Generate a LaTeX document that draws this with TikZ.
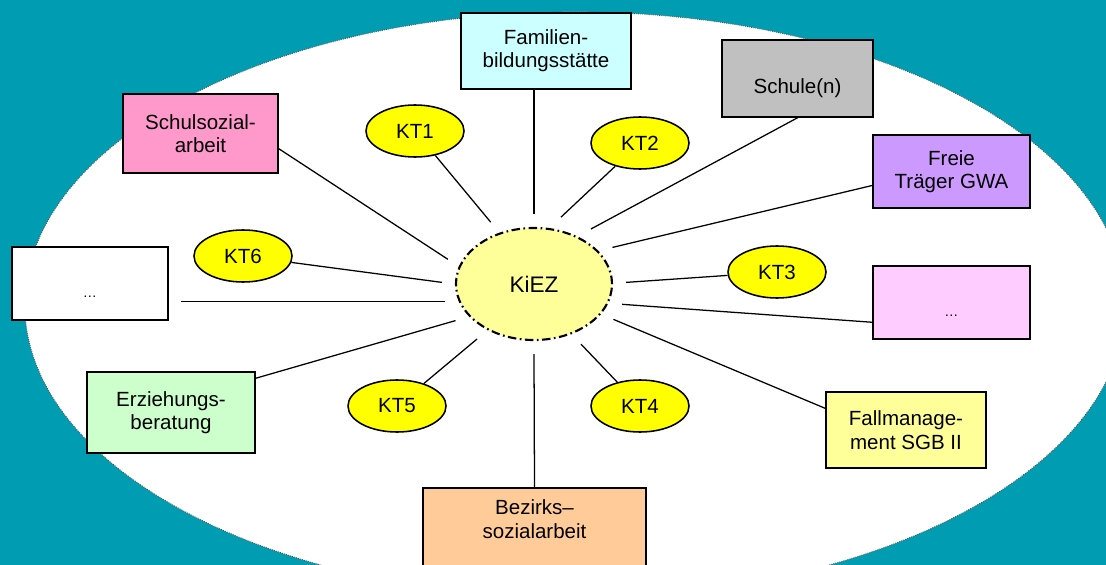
\documentclass[tikz,border=0pt]{standalone}
\usepackage{fontspec}
\setmainfont{Liberation Sans}
\usepackage{tikz}
\usetikzlibrary{shapes.geometric}
\definecolor{sea}{RGB}{0,156,178}
\definecolor{ktyellow}{RGB}{255,255,0}
\definecolor{paleyellow}{RGB}{255,255,153}
\newcommand\lbl{\fontsize{14.6pt}{16.6pt}\selectfont}

\begin{document}
\begin{tikzpicture}[x=0.025cm, y=-0.025cm,
  box/.style={draw, line width=1.1pt, align=center, font=\lbl, inner sep=2pt},
  dotsbox/.style={box, font=\fontsize{10pt}{11pt}\selectfont, text height=0.7cm, text depth=0cm},
  kt/.style={ellipse, draw, line width=1.1pt, fill=ktyellow, inner sep=0pt,
    minimum width=2.45cm, minimum height=1.3cm, font=\lbl},
  hub/.style={ellipse, draw, line width=1.5pt, fill=paleyellow,
    dash pattern=on 6pt off 2.5pt on 1.2pt off 2.5pt,
    minimum width=3.9cm, minimum height=2.8cm, outer sep=0.35cm, font=\fontsize{16pt}{18pt}\selectfont},
  link/.style={line width=0.9pt}]
  \useasboundingbox (0,0) rectangle (1106,565);
  \clip (0,0) rectangle (1106,565);
  \fill[sea] (0,0) rectangle (1106,565);
  \draw[fill=white, line width=0.6pt, draw=black!70, dash pattern=on 0.6pt off 0.9pt]
    (575,305) ellipse [x radius=13.75cm, y radius=7.325cm];

  \node[hub] (kiez) at (534,284) {KiEZ};

  \node[box, fill={rgb,255:red,204;green,255;blue,255}, minimum width=4.25cm, minimum height=1.9cm]
    (fbs) at (546,51) {Familien-\\bildungsstätte};
  \node[box, fill={rgb,255:red,192;green,192;blue,192}, minimum width=3.775cm, minimum height=1.925cm,
    text height=0.875cm] (sch) at (797.5,78.5) {Schule(n)};
  \node[box, fill={rgb,255:red,204;green,153;blue,255}, minimum width=3.925cm, minimum height=1.825cm]
    (fre) at (951.5,171.5) {Freie\\Träger GWA};
  \node[dotsbox, fill={rgb,255:red,255;green,204;blue,255}, minimum width=3.925cm, minimum height=1.825cm]
    (dotsr) at (951.5,302.5) {…};
  \node[box, fill=paleyellow, minimum width=4cm, minimum height=1.9cm]
    (fal) at (906,430) {Fallmanage-\\ment SGB II};
  \node[box, fill={rgb,255:red,255;green,204;blue,153}, minimum width=5.575cm, anchor=north,
    inner ysep=0.3cm, text depth=2cm] (bez) at (534.5,487) {Bezirks–\\sozialarbeit};
  \node[box, fill={rgb,255:red,204;green,255;blue,204}, minimum width=4.2cm, minimum height=2.025cm]
    (erz) at (171,412.5) {Erziehungs-\\beratung};
  \node[dotsbox, fill=white, minimum width=3.9cm, minimum height=1.825cm]
    (dotsl) at (90,283.5) {…};
  \node[box, fill={rgb,255:red,255;green,153;blue,204}, minimum width=3.875cm, minimum height=1.975cm]
    (ssa) at (200.5,133.5) {Schulsozial-\\arbeit};

  \node[kt] (kt1) at (415,131) {KT1};
  \node[kt] (kt2) at (640,143) {KT2};
  \node[kt] (kt3) at (777,272) {KT3};
  \node[kt] (kt4) at (640,406) {KT4};
  \node[kt] (kt5) at (397,406) {KT5};
  \node[kt] (kt6) at (243,256) {KT6};

  \draw[link] (fbs.south -| kiez) -- (kiez.90);
  \draw[link] (sch.south) -- (kiez.44);
  \draw[link] (fre.190) -- (kiez.25);
  \draw[link] (dotsr.194) -- (kiez.-13);
  \draw[link] (fal.165) -- (kiez.-24);
  \draw[link] (bez.north) -- (kiez.-90);
  \draw[link] (erz.22) -- (kiez.-155);
  \draw[link, shorten >=0.3cm] (kiez.191) -- (kiez.191 -| dotsl.east);
  \draw[link] (ssa.-11) -- (kiez.164);
  \foreach \k/\a in {kt1/125, kt2/68, kt3/1, kt4/-52, kt5/-136, kt6/179}
    \draw[link] (\k) -- (kiez.\a);
\end{tikzpicture}
\end{document}
